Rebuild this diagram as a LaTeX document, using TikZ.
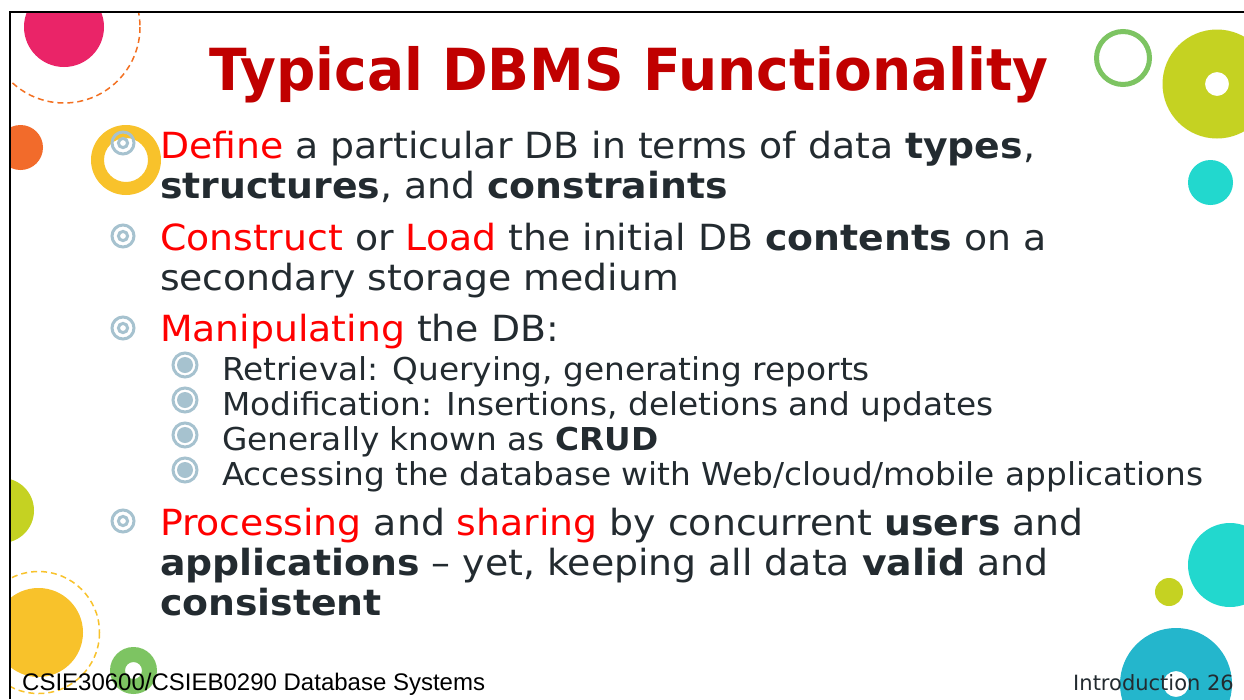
\documentclass[tikz,border=0pt]{standalone}
\usepackage{graphicx}
\usepackage{fontspec}
\setmainfont{DejaVu Sans}
\newfontfamily\footfont{Liberation Sans}

\definecolor{titlered}{HTML}{C00000}
\definecolor{keyred}{HTML}{FF0000}
\definecolor{bodyink}{HTML}{232B30}
\definecolor{bulletblue}{HTML}{A6C2CF}
\definecolor{dotpink}{HTML}{EA2468}
\definecolor{dotorange}{HTML}{F26B2B}
\definecolor{dashorange}{HTML}{F37021}
\definecolor{dotyellow}{HTML}{F8C22B}
\definecolor{dotgreen}{HTML}{7DC462}
\definecolor{dotlime}{HTML}{C5D222}
\definecolor{dotteal}{HTML}{22D8CE}
\definecolor{dotblue}{HTML}{24B6CC}

\newcommand\kw[1]{\textcolor{keyred}{#1}}
% horizontal stretch of a text run
\newcommand\wide[2]{\scalebox{#1}[1]{#2}}
\newcommand\mtxt[1]{\wide{1.05}{#1}}
\newcommand\stxt[1]{\wide{1.04}{#1}}

\tikzset{
  mainline/.style={anchor=base west, inner sep=0pt, outer sep=0pt,
    text=bodyink, font=\fontsize{36}{40}\selectfont},
  subline/.style={anchor=base west, inner sep=0pt, outer sep=0pt,
    text=bodyink, font=\fontsize{31.5}{35}\selectfont},
  mainbullet/.pic={
    \draw[bulletblue, line width=3pt] (0,0) circle[radius=11];
    \draw[bulletblue, line width=3pt] (0,0) circle[radius=4.6];
  },
  subbullet/.pic={
    \draw[bulletblue, line width=3pt] (0,0) circle[radius=12];
    \fill[bulletblue] (0,0) circle[radius=8];
  },
  ring/.style={even odd rule},
  dashring/.style={line width=1.5pt, dash pattern=on 6pt off 4pt},
}

\begin{document}
\begin{tikzpicture}[x=1pt, y=-1pt]
\useasboundingbox (0,0) rectangle (1244,699);
\fill[white] (0,0) rectangle (1244,699);

% decorative dots, kept inside the slide frame
\begin{scope}
  \clip (10,12) rectangle (1244,699);
  % top left
  \fill[dotpink] (64,27) circle[radius=40];
  \draw[dashorange, dashring] (64,27) circle[radius=76];
  \fill[dotorange] (20.5,147.5) circle[radius=22.5];
  \fill[dotyellow, ring] (126,160) circle[radius=35] (126,160) circle[radius=22];
  % top right
  \draw[dotgreen, line width=5pt] (1123,58) circle[radius=26.5];
  \fill[dotlime, ring] (1217,84) circle[radius=54.5] (1217,84) circle[radius=12];
  \fill[dotteal] (1210.5,182.5) circle[radius=22.5];
  % bottom left
  \fill[dotlime] (1.5,510.5) circle[radius=32.5];
  \fill[dotyellow] (38.5,632.5) circle[radius=44.5];
  \draw[dotyellow, dashring] (38.5,632.5) circle[radius=61];
  \fill[dotgreen, ring] (133.5,670.5) circle[radius=23.5] (133.5,670.5) circle[radius=8.5];
  % bottom right
  \fill[dotteal] (1230,565) circle[radius=42];
  \fill[dotlime] (1169,592) circle[radius=14];
  \fill[dotblue, ring] (1176,684) circle[radius=56] (1176,684) circle[radius=13];
\end{scope}

% slide frame
\draw[line width=2pt] (10,699) -- (10,12) -- (1244,12);

% title
\node[anchor=base west, inner sep=0pt, text=titlered,
      font=\fontsize{58}{62}\selectfont\bfseries] (title) at (209,90)
  {\wide{0.949}{Typical DBMS Functionality}};

% bullets
\pic at (123,143) {mainbullet};
\pic at (123,236) {mainbullet};
\pic at (123,328) {mainbullet};
\pic at (185,365) {subbullet};
\pic at (185,400) {subbullet};
\pic at (185,435) {subbullet};
\pic at (185,470) {subbullet};
\pic at (123,521) {mainbullet};

% body text
\node[mainline] (defA) at (160,158)
  {\mtxt{\kw{Define} a particular DB in terms of data \textbf{types},}};
\node[mainline] (defB) at (160,198)
  {\mtxt{\textbf{structures}, and \textbf{constraints}}};
\node[mainline] (conA) at (160,250)
  {\mtxt{\kw{Construct} or \kw{Load} the initial DB \textbf{contents} on a}};
\node[mainline] (conB) at (160,290)
  {\mtxt{secondary storage medium}};
\node[mainline] (manA) at (160,341)
  {\mtxt{\kw{Manipulating} the DB:}};
\node[subline] (subA) at (222,380)
  {\stxt{Retrieval: Querying, generating reports}};
\node[subline] (subB) at (222,415)
  {\stxt{Modification: Insertions, deletions and updates}};
\node[subline] (subC) at (222,450)
  {\stxt{Generally known as \textbf{CRUD}}};
\node[subline] (subD) at (222,485)
  {\stxt{Accessing the database with Web/cloud/mobile applications}};
\node[mainline] (proA) at (160,535)
  {\mtxt{\kw{Processing} and \kw{sharing} by concurrent \textbf{users} and}};
\node[mainline] (proB) at (160,575)
  {\mtxt{\textbf{applications} -- yet, keeping all data \textbf{valid} and}};
\node[mainline] (proC) at (160,615)
  {\mtxt{\textbf{consistent}}};

% footer
\node[anchor=base west, inner sep=0pt, text=black,
      font=\footfont\fontsize{24}{26}\selectfont] (course) at (22,690)
  {CSIE30600/CSIEB0290 Database Systems};
\node[anchor=base east, inner sep=0pt, text=bodyink,
      font=\fontsize{21}{24}\selectfont] (page) at (1234,690)
  {Introduction 26};
\end{tikzpicture}
\end{document}
